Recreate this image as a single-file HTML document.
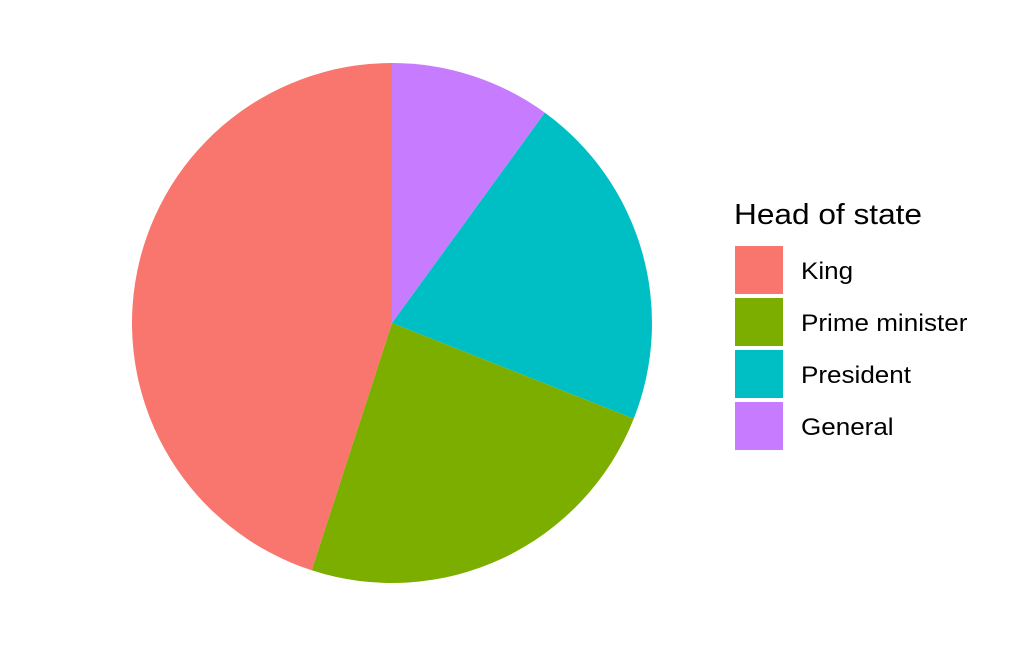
<!DOCTYPE html>
<html><head><meta charset="utf-8"><style>
html,body{margin:0;padding:0;background:#fff;}
svg{display:block;font-family:"Liberation Sans",Arial,sans-serif;}
</style></head><body>
<svg id="chart" width="1036" height="648" viewBox="0 0 1036 648">
<g id="slices"></g>
<g id="legend">
<text x="734" y="224" font-size="29" textLength="188" lengthAdjust="spacingAndGlyphs" fill="#000">Head of state</text>
</g>
</svg>
<script>
const categories = ["General", "President", "Prime minister", "King"];
const values = [10, 21, 24, 45];
const colors = ["#C77CFF", "#00BFC4", "#7CAE00", "#F8766D"];
const legendOrder = ["King", "Prime minister", "President", "General"];

const cx = 392, cy = 323, r = 260;
const total = values.reduce((a, b) => a + b, 0);
const NS = "http://www.w3.org/2000/svg";
const sg = document.getElementById("slices");
function pt(frac) {
  const a = frac * 2 * Math.PI;
  return [cx + r * Math.sin(a), cy - r * Math.cos(a)];
}
let cum = 0;
values.forEach((v, i) => {
  const f0 = cum / total, f1 = (cum + v) / total;
  cum += v;
  const [x0, y0] = pt(f0), [x1, y1] = pt(f1);
  const large = (f1 - f0) > 0.5 ? 1 : 0;
  const p = document.createElementNS(NS, "path");
  p.setAttribute("d", `M${cx},${cy} L${x0},${y0} A${r},${r} 0 ${large} 1 ${x1},${y1} Z`);
  p.setAttribute("fill", colors[i]);
  
  
  sg.appendChild(p);
});

const lg = document.getElementById("legend");
legendOrder.forEach((name, j) => {
  const i = categories.indexOf(name);
  const y = 246 + j * 52;
  const rect = document.createElementNS(NS, "rect");
  rect.setAttribute("x", 735); rect.setAttribute("y", y);
  rect.setAttribute("width", 48); rect.setAttribute("height", 48);
  rect.setAttribute("fill", colors[i]);
  
  
  lg.appendChild(rect);
  const t = document.createElementNS(NS, "text");
  t.setAttribute("x", 801); t.setAttribute("y", y + 33);
  t.setAttribute("font-size", "24"); t.setAttribute("fill", "#000");
  t.textContent = name;
  
  
  lg.appendChild(t);
  const w = t.getComputedTextLength();
  t.setAttribute("textLength", (w * 166 / 153).toFixed(1));
  t.setAttribute("lengthAdjust", "spacingAndGlyphs");
});
</script>
</body></html>
